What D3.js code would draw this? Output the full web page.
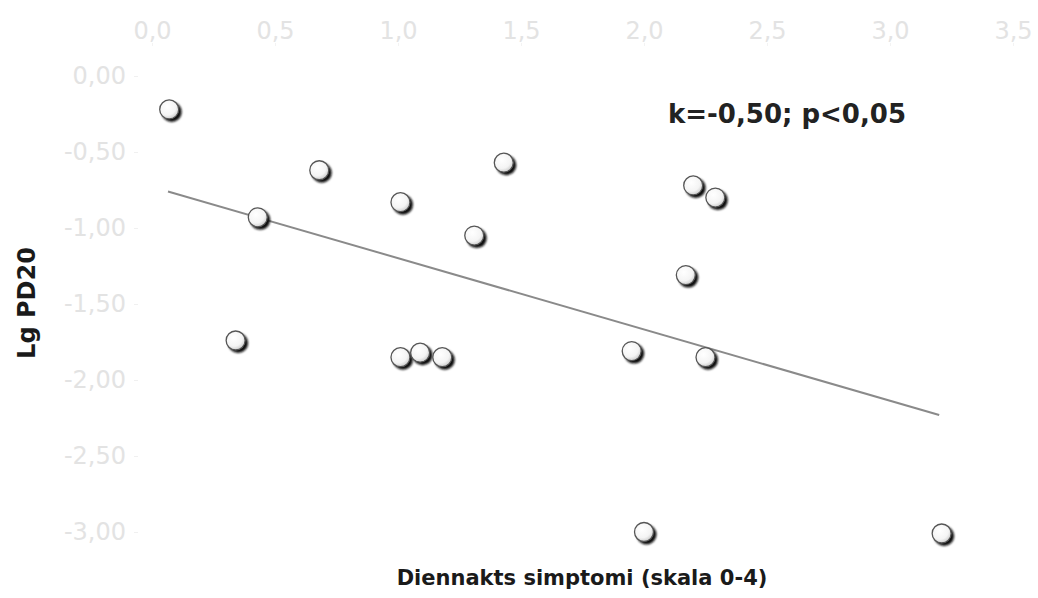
<!DOCTYPE html>
<html>
<head>
<meta charset="utf-8">
<script src="https://cdn.jsdelivr.net/npm/d3@7"></script>
<style>
  body { margin: 0; background: #fff; }
  svg { display: block; }
</style>
</head>
<body>
<div id="chart"></div>
<script>
// symptom score (x) vs Lg PD20 (y)
const symptomScore = [0.07, 0.43, 0.34, 0.68, 1.01, 1.01, 1.09, 1.18, 1.31, 1.43, 1.95, 2.00, 2.20, 2.29, 2.17, 2.25, 3.21];
const lgPD20 = [-0.22, -0.93, -1.74, -0.62, -0.83, -1.85, -1.82, -1.85, -1.05, -0.57, -1.81, -3.00, -0.72, -0.80, -1.31, -1.85, -3.01];
const trendX = [0.065, 3.2];
const trendY = [-0.76, -2.23];
const xTicks = [0, 0.5, 1, 1.5, 2, 2.5, 3, 3.5];
const yTicks = [0, -0.5, -1, -1.5, -2, -2.5, -3];

const width = 1038, height = 598;

const svg = d3.select("#chart").append("svg")
    .attr("width", width)
    .attr("height", height);

const x = d3.scaleLinear().domain([0, 3.5]).range([152, 1013]);
const y = d3.scaleLinear().domain([0, -3]).range([76, 532]);

const comma = d3.formatLocale({decimal: ",", thousands: " ", grouping: [3], currency: ["", ""], minus: "-"});

// shading for the markers
const defs = svg.append("defs");
const grad = defs.append("radialGradient")
    .attr("id", "ball")
    .attr("cx", "40%").attr("cy", "35%").attr("r", "65%");
grad.append("stop").attr("offset", "0%").attr("stop-color", "#ffffff");
grad.append("stop").attr("offset", "70%").attr("stop-color", "#f4f4f4");
grad.append("stop").attr("offset", "100%").attr("stop-color", "#cfcfcf");
defs.append("filter").attr("id", "soft")
    .append("feGaussianBlur").attr("stdDeviation", 0.8);

// x axis on top, very faint
const xAxis = svg.append("g")
    .attr("transform", "translate(0,46)")
    .call(d3.axisTop(x).tickValues(xTicks).tickFormat(comma.format(".1f")).tickSize(3).tickPadding(4));
xAxis.select(".domain").remove();
xAxis.selectAll("line").attr("stroke", "#f3f3f3");
xAxis.selectAll("text")
    .attr("fill", "#e3e3e3")
    .style("font-family", "DejaVu Sans")
    .style("font-size", "24px");

// y axis, very faint
const yAxis = svg.append("g")
    .attr("transform", "translate(138,0)")
    .call(d3.axisLeft(y).tickValues(yTicks).tickFormat(comma.format(".2f")).tickSize(4).tickPadding(8));
yAxis.select(".domain").remove();
yAxis.selectAll("line").attr("stroke", "#f0f0f0");
yAxis.selectAll("text")
    .attr("fill", "#e3e3e3")
    .style("font-family", "DejaVu Sans")
    .style("font-size", "24px");

// trend line
svg.append("line")
    .attr("x1", x(trendX[0])).attr("y1", y(trendY[0]))
    .attr("x2", x(trendX[1])).attr("y2", y(trendY[1]))
    .attr("stroke", "#8a8a8a")
    .attr("stroke-width", 2);

const pts = symptomScore.map((v, i) => ({x: v, y: lgPD20[i]}));

// shadows
svg.append("g").selectAll("circle").data(pts).enter()
    .append("circle")
    .attr("cx", d => x(d.x) + 2.5)
    .attr("cy", d => y(d.y) + 2.5)
    .attr("r", 10)
    .attr("fill", "#111")
    .attr("filter", "url(#soft)");

// markers
svg.append("g").selectAll("circle").data(pts).enter()
    .append("circle")
    .attr("cx", d => x(d.x))
    .attr("cy", d => y(d.y))
    .attr("r", 9.5)
    .attr("fill", "url(#ball)")
    .attr("stroke", "#555")
    .attr("stroke-width", 1.3);

// statistics note
svg.append("text")
    .attr("x", 668).attr("y", 123)
    .text("k=-0,50; p<0,05")
    .attr("fill", "#222")
    .style("font-family", "DejaVu Sans")
    .style("font-weight", "bold")
    .style("font-size", "26px");

// axis titles
svg.append("text")
    .attr("x", 582).attr("y", 585)
    .attr("text-anchor", "middle")
    .text("Diennakts simptomi (skala 0-4)")
    .attr("fill", "#1a1a1a")
    .style("font-family", "DejaVu Sans")
    .style("font-weight", "bold")
    .style("font-size", "21px");

svg.append("text")
    .attr("transform", "translate(35,303) rotate(-90)")
    .attr("text-anchor", "middle")
    .text("Lg PD20")
    .attr("fill", "#1a1a1a")
    .style("font-family", "DejaVu Sans")
    .style("font-weight", "bold")
    .style("font-size", "24px");
</script>
</body>
</html>
